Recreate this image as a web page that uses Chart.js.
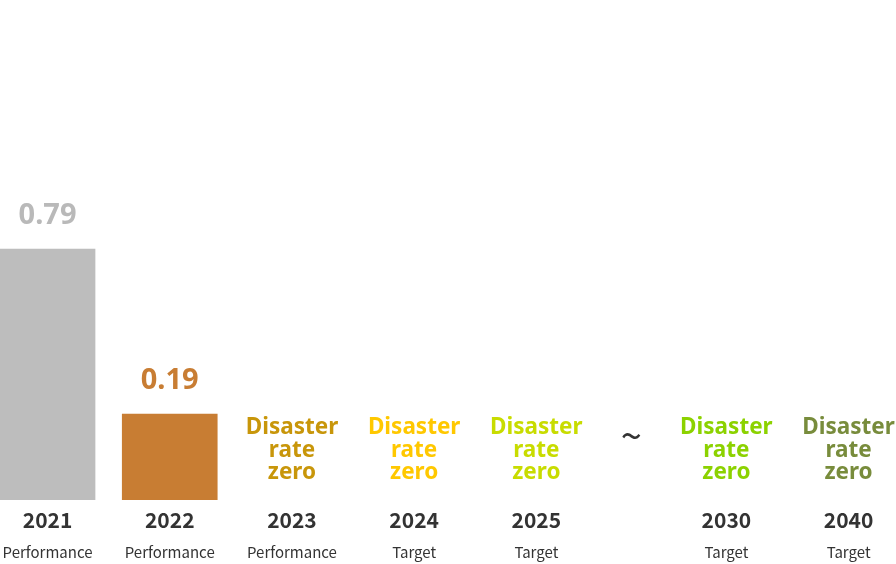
<!DOCTYPE html>
<html>
<head>
<meta charset="utf-8">
<script src="https://cdn.jsdelivr.net/npm/chart.js@4/dist/chart.umd.min.js"></script>
<style>
  html, body { margin: 0; padding: 0; background: #fff; }
  #wrap { width: 896px; height: 564px; position: relative; }
</style>
</head>
<body>
<div id="wrap"><canvas id="chart"></canvas></div>
<script>
// data
const years = ['2021', '2022', '2023', '2024', '2025', '2030', '2040'];
const kinds = ['Performance', 'Performance', 'Performance', 'Target', 'Target', 'Target', 'Target'];
const rates = [0.79, 0.19, null, null, null, null, null];
const notes = [null, null, 'Disaster rate zero', 'Disaster rate zero', 'Disaster rate zero', 'Disaster rate zero', 'Disaster rate zero'];

// styling
const barColors = ['#BDBDBD', '#C87D33'];
const valueColors = ['#B9B9B9', '#C87D33'];
const noteColors = [null, null, '#C8960A', '#FFC800', '#C8DC00', '#8CD200', '#788C3C'];
const breakAfter = 4;     // "~" sits between 2025 and 2030
const breakGap = 0.555;   // extra slot width for the break
const slot = i => i + (i > breakAfter ? breakGap : 0);

const labelFont = '"Noto Sans CJK KR", "Noto Sans", sans-serif';
const noteFont = '"Noto Sans", sans-serif';

const barIdx = rates.map((v, i) => (v == null ? -1 : i)).filter(i => i >= 0);

const labelsPlugin = {
  id: 'labels',
  afterDatasetsDraw(chart) {
    const { ctx, chartArea, scales: { x } } = chart;
    const base = chartArea.bottom;
    ctx.save();
    ctx.textAlign = 'center';
    ctx.textBaseline = 'middle';

    // values above the bars
    chart.getDatasetMeta(0).data.forEach((bar, i) => {
      ctx.font = 'bold 29px ' + noteFont;
      ctx.fillStyle = valueColors[i];
      ctx.fillText(rates[barIdx[i]].toFixed(2), bar.x, bar.y - 33);
    });

    years.forEach((yr, i) => {
      const px = x.getPixelForValue(slot(i));
      if (notes[i]) {
        ctx.font = 'bold 22.5px ' + noteFont;
        ctx.fillStyle = noteColors[i];
        const offs = [-72, -49.5, -27];
        notes[i].split(' ').forEach((w, k) => ctx.fillText(w, px, base + offs[k]));
      }
      ctx.fillStyle = '#333333';
      ctx.font = 'bold 21px ' + labelFont;
      ctx.fillText(yr, px, base + 20);
      ctx.font = '15px ' + labelFont;
      ctx.fillText(kinds[i], px, base + 52);
    });

    // break mark
    const tx = x.getPixelForValue((slot(breakAfter) + slot(breakAfter + 1)) / 2);
    ctx.font = '38px ' + labelFont;
    ctx.fillStyle = '#333333';
    ctx.fillText('~', tx, base - 64);
    ctx.restore();
  }
};

new Chart(document.getElementById('chart'), {
  type: 'bar',
  data: {
    datasets: [{
      data: barIdx.map(i => ({ x: slot(i), y: rates[i] })),
      backgroundColor: barColors,
      barThickness: 95,
      borderWidth: 0
    }]
  },
  options: {
    responsive: true,
    maintainAspectRatio: false,
    animation: false,
    layout: { padding: { top: 0, left: 0, right: 0, bottom: 64 } },
    scales: {
      x: { type: 'linear', display: false, offset: false, bounds: 'data', min: -0.389, max: 6.943 },
      y: { type: 'logarithmic', display: false, bounds: 'data', min: 0.0904, max: 6.786 }
    },
    plugins: { legend: { display: false }, tooltip: { enabled: false } }
  },
  plugins: [labelsPlugin]
});
</script>
</body>
</html>
